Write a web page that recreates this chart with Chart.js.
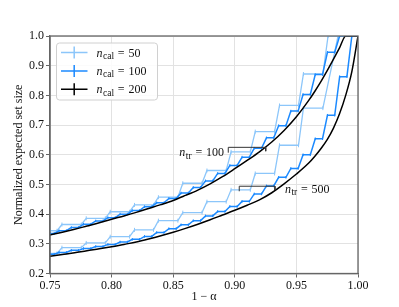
<!DOCTYPE html>
<html>
<head>
<meta charset="utf-8">
<script src="https://cdn.jsdelivr.net/npm/chart.js@4.4.1/dist/chart.umd.min.js"></script>
<style>
  body { margin: 0; background: #fff; }
</style>
</head>
<body>
<canvas id="chart" width="399" height="307"></canvas>
<script>
// n_cal = 50 : steps (start, end of each flat part) and the set size on it
const cal50Start = [0.750, 0.7597, 0.7794, 0.7989, 0.8186, 0.8380, 0.8578, 0.8774, 0.8970, 0.9166, 0.9363, 0.9557];
const cal50End   = [0.7557, 0.7754, 0.7949, 0.8146, 0.8340, 0.8538, 0.8734, 0.8930, 0.9126, 0.9323, 0.9517, 0.9715];
const cal50Tr100 = [0.344, 0.365, 0.386, 0.408, 0.431, 0.457, 0.504, 0.547, 0.610, 0.678, 0.766, 0.872];
const cal50Tr500 = [0.268, 0.287, 0.303, 0.324, 0.347, 0.378, 0.405, 0.442, 0.482, 0.537, 0.632, 0.757];
const cal50Full  = [0.9757, 0.9838]; // 1-alpha where size hits 1 (n_tr=100, n_tr=500)

// n_cal = 100
const cal100Start = [0.7500, 0.7574, 0.7673, 0.7772, 0.7871, 0.7970, 0.8069, 0.8168, 0.8267, 0.8366, 0.8465, 0.8564, 0.8663,
                     0.8762, 0.8861, 0.8960, 0.9059, 0.9158, 0.9257, 0.9356, 0.9455, 0.9554, 0.9653, 0.9752, 0.9851];
const cal100End   = [0.7534, 0.7633, 0.7732, 0.7831, 0.7930, 0.8029, 0.8128, 0.8227, 0.8326, 0.8425, 0.8524, 0.8623, 0.8722,
                     0.8821, 0.8920, 0.9019, 0.9118, 0.9217, 0.9316, 0.9415, 0.9514, 0.9613, 0.9712, 0.9811, 0.9910];
const cal100Tr100 = [0.335, 0.344, 0.355, 0.366, 0.377, 0.388, 0.400, 0.412, 0.425, 0.438, 0.453, 0.471, 0.490,
                     0.512, 0.537, 0.564, 0.592, 0.622, 0.657, 0.698, 0.747, 0.803, 0.870, 0.945];
const cal100Tr500 = [0.265, 0.271, 0.278, 0.284, 0.291, 0.298, 0.306, 0.315, 0.325, 0.338, 0.351, 0.364, 0.378,
                     0.394, 0.409, 0.426, 0.443, 0.468, 0.495, 0.524, 0.554, 0.600, 0.654, 0.733, 0.863];
const cal100Full  = [0.9851, 0.9950];

// n_cal = 200 (looks smooth)
const cal200Alpha = [0.75, 0.76, 0.77, 0.78, 0.79, 0.80, 0.81, 0.82, 0.83, 0.84, 0.85, 0.86, 0.87, 0.88, 0.89,
                     0.90, 0.91, 0.92, 0.93, 0.94, 0.95, 0.96, 0.965, 0.97, 0.975, 0.98, 0.985, 0.99, 0.995, 1.0];
const cal200Tr100 = [0.330, 0.339, 0.349, 0.360, 0.371, 0.383, 0.394, 0.406, 0.419, 0.432, 0.446, 0.463, 0.481, 0.502, 0.526,
                     0.553, 0.581, 0.610, 0.643, 0.682, 0.728, 0.783, 0.814, 0.847, 0.883, 0.921, 0.960, 1.0, 1.0, 1.0];
const cal200Tr500 = [0.258, 0.264, 0.270, 0.277, 0.283, 0.290, 0.298, 0.306, 0.316, 0.327, 0.339, 0.352, 0.366, 0.381, 0.397,
                     0.413, 0.430, 0.448, 0.472, 0.502, 0.535, 0.572, 0.595, 0.621, 0.651, 0.689, 0.738, 0.800, 0.880, 1.0];

// annotations: bracket corners and label anchors
const bracket100X = [0.8947, 0.8947, 0.9251, 0.9251];
const bracket100Y = [0.607, 0.625, 0.625, 0.612];
const bracket500X = [0.9036, 0.9036, 0.9326, 0.9326];
const bracket500Y = [0.477, 0.494, 0.494, 0.481];
const label100 = [0.8912, 0.609, '100'];
const label500 = [0.9407, 0.485, '500'];

const legendText = ['50', '100', '200'];

const colLight = 'rgb(140, 198, 250)';
const colMid = 'rgb(28, 138, 255)';
const colBlack = '#000';
const FONT = '"Liberation Serif", "DejaVu Serif", serif';

function steps(start, end, vals, full) {
    let pts = [];
    for (let i = 0; i < vals.length; i++) {
        pts.push({x: start[i], y: vals[i]});
        pts.push({x: end[i], y: vals[i]});
    }
    pts.push({x: full, y: 1});
    pts.push({x: 1, y: 1});
    return pts;
}

function zip(xs, ys) {
    return xs.map((v, i) => ({x: v, y: ys[i]}));
}

function stepSet(data, color, width, tick, order) {
    return {
        data: data, borderColor: color, borderWidth: width, order: order,
        pointStyle: 'line', rotation: 90, pointRadius: tick, pointBorderColor: color,
        pointBorderWidth: 1, pointHoverRadius: 0
    };
}

// italic n with subscript, then " = value" with math spacing
function drawMath(ctx, sub, num, px, py, align) {
    ctx.font = 'italic 12px ' + FONT;
    const w1 = ctx.measureText('n').width;
    ctx.font = '9.5px ' + FONT;
    const w2 = ctx.measureText(sub).width;
    ctx.font = '12px ' + FONT;
    const wEq = ctx.measureText('=').width;
    const wNum = ctx.measureText(num).width;
    const gap = 3.8;
    const total = w1 + w2 + gap + wEq + gap + wNum + 0.5;
    let x0 = align === 'right' ? px - total : px;
    const base = py + 4;
    ctx.fillStyle = '#111';
    ctx.textAlign = 'left';
    ctx.textBaseline = 'alphabetic';
    ctx.font = 'italic 12px ' + FONT;
    ctx.fillText('n', x0, base);
    ctx.font = '9.5px ' + FONT;
    ctx.fillText(sub, x0 + w1 + 0.5, base + 2.5);
    ctx.font = '12px ' + FONT;
    let xe = x0 + w1 + w2 + 0.5 + gap;
    ctx.fillText('=', xe, base);
    ctx.fillText(num, xe + wEq + gap, base);
}

const overlay = {
    id: 'overlay',
    afterDraw(chart) {
        const {ctx, chartArea: a, scales: {x, y}} = chart;
        ctx.save();
        ctx.strokeStyle = '#666';
        ctx.lineWidth = 1.3;
        ctx.strokeRect(a.left, a.top, a.right - a.left, a.bottom - a.top);

        drawMath(ctx, 'tr', label100[2], x.getPixelForValue(label100[0]), y.getPixelForValue(label100[1]), 'right');
        drawMath(ctx, 'tr', label500[2], x.getPixelForValue(label500[0]), y.getPixelForValue(label500[1]), 'left');

        // legend
        const lx = a.left + 6.5, ly = a.top + 7;
        ctx.beginPath();
        ctx.roundRect(lx, ly, 101, 57, 3);
        ctx.fillStyle = 'rgba(255,255,255,0.85)';
        ctx.fill();
        ctx.strokeStyle = '#d0d0d0';
        ctx.lineWidth = 1;
        ctx.stroke();
        const cols = [colLight, colMid, colBlack];
        for (let i = 0; i < 3; i++) {
            const yy = ly + 9.5 + i * 18.4;
            ctx.strokeStyle = cols[i];
            ctx.lineWidth = 1.5;
            ctx.beginPath();
            ctx.moveTo(lx + 4.5, yy);
            ctx.lineTo(lx + 31, yy);
            ctx.moveTo(lx + 17.7, yy - 6);
            ctx.lineTo(lx + 17.7, yy + 6);
            ctx.stroke();
            drawMath(ctx, 'cal', legendText[i], lx + 40, yy, 'left');
        }
        ctx.restore();
    }
};

const axisFont = {family: FONT, size: 12};

new Chart(document.getElementById('chart'), {
    type: 'line',
    data: {
        datasets: [
            stepSet(steps(cal50Start, cal50End, cal50Tr100, cal50Full[0]), colLight, 1.3, 2, 3),
            stepSet(steps(cal50Start, cal50End, cal50Tr500, cal50Full[1]), colLight, 1.3, 2, 3),
            stepSet(steps(cal100Start, cal100End, cal100Tr100, cal100Full[0]), colMid, 1.5, 1.3, 2),
            stepSet(steps(cal100Start, cal100End, cal100Tr500, cal100Full[1]), colMid, 1.5, 1.3, 2),
            { data: zip(cal200Alpha, cal200Tr100), borderColor: colBlack, borderWidth: 1.5, pointRadius: 0,
              cubicInterpolationMode: 'monotone', order: 1 },
            { data: zip(cal200Alpha, cal200Tr500), borderColor: colBlack, borderWidth: 1.5, pointRadius: 0,
              cubicInterpolationMode: 'monotone', order: 1 },
            { data: zip(bracket100X, bracket100Y), borderColor: '#333', borderWidth: 1, pointRadius: 0, order: 0 },
            { data: zip(bracket500X, bracket500Y), borderColor: '#333', borderWidth: 1, pointRadius: 0, order: 0 }
        ]
    },
    options: {
        responsive: false,
        animation: false,
        devicePixelRatio: 1,
        layout: { padding: { top: 36, right: 41, left: 0, bottom: 0 } },
        plugins: { legend: { display: false }, tooltip: { enabled: false } },
        scales: {
            x: {
                type: 'linear', min: 0.75, max: 1.0,
                afterFit: (s) => { s.height = 33.5; },
                ticks: { stepSize: 0.05, callback: (v) => v.toFixed(2), font: axisFont, color: '#111',
                         padding: 1, maxRotation: 0, autoSkip: false },
                grid: { color: '#e2e2e2', tickColor: '#666', tickLength: 4 },
                border: { color: '#666', width: 1.3 },
                title: { display: true, text: '1 − α', font: axisFont, color: '#111', padding: { top: 0, bottom: 3 } }
            },
            y: {
                type: 'linear', min: 0.2, max: 1.0,
                afterFit: (s) => { s.width = 50; },
                ticks: { stepSize: 0.1, callback: (v) => v.toFixed(1), font: axisFont, color: '#111', padding: 2 },
                grid: { color: '#e2e2e2', tickColor: '#666', tickLength: 4 },
                border: { color: '#666', width: 1.3 },
                title: { display: true, text: 'Normalized expected set size', font: axisFont, color: '#111',
                         padding: { top: 12, bottom: 0 } }
            }
        }
    },
    plugins: [overlay]
});
</script>
</body>
</html>
